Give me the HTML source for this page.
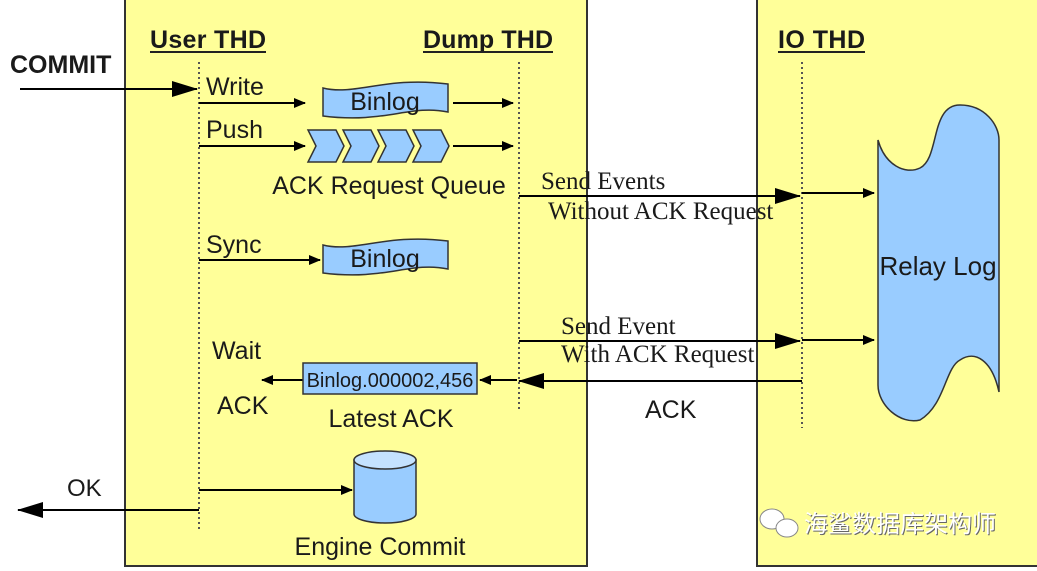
<!DOCTYPE html>
<html><head><meta charset="utf-8"><style>
html,body{margin:0;padding:0;background:#fff;}
svg{display:block;}
.s{font-family:"Liberation Sans",sans-serif;fill:#1a1a1a;}
.r{font-family:"Liberation Serif",serif;fill:#1a1a1a;}
</style></head><body>
<svg width="1037" height="571" viewBox="0 0 1037 571" xmlns="http://www.w3.org/2000/svg">
<defs>
<marker id="a" markerWidth="12" markerHeight="10" refX="11" refY="5" orient="auto" markerUnits="userSpaceOnUse">
<path d="M0,0 L12,5 L0,10 Z" fill="#000"/></marker>
<marker id="b" markerWidth="26" markerHeight="16" refX="25" refY="8" orient="auto" markerUnits="userSpaceOnUse">
<path d="M0,0 L26,8 L0,16 Z" fill="#000"/></marker>
</defs>
<rect x="125" y="-5" width="462" height="571" fill="#ffff99" stroke="#333" stroke-width="2"/>
<rect x="757" y="-5" width="290" height="571" fill="#ffff99" stroke="#333" stroke-width="2"/>

<g stroke="#555" stroke-width="2" stroke-dasharray="2,3">
<line x1="199" y1="62" x2="199" y2="532"/>
<line x1="519" y1="62" x2="519" y2="412"/>
<line x1="802" y1="62" x2="802" y2="428"/>
</g>

<text x="150" y="48" class="s" font-size="25" font-weight="bold" textLength="116">User THD</text>
<line x1="150" y1="52" x2="266" y2="52" stroke="#222" stroke-width="2"/>
<text x="423" y="48" class="s" font-size="25" font-weight="bold" textLength="130">Dump THD</text>
<line x1="423" y1="52" x2="553" y2="52" stroke="#222" stroke-width="2"/>
<text x="778" y="48" class="s" font-size="25" font-weight="bold" textLength="87">IO THD</text>
<line x1="778" y1="52" x2="865" y2="52" stroke="#222" stroke-width="2"/>
<text x="10" y="73" class="s" font-size="25" font-weight="bold">COMMIT</text>

<g stroke="#000" stroke-width="2" fill="none">
<line x1="20" y1="89" x2="197" y2="89" marker-end="url(#b)"/>
<line x1="199" y1="103" x2="305" y2="103" marker-end="url(#a)"/>
<line x1="453" y1="103" x2="513" y2="103" marker-end="url(#a)"/>
<line x1="199" y1="146" x2="305" y2="146" marker-end="url(#a)"/>
<line x1="453" y1="146" x2="513" y2="146" marker-end="url(#a)"/>
<line x1="199" y1="260" x2="320" y2="260" marker-end="url(#a)"/>
<line x1="519" y1="196" x2="800" y2="196" marker-end="url(#b)"/>
<line x1="802" y1="193" x2="874" y2="193" marker-end="url(#a)"/>
<line x1="519" y1="341" x2="800" y2="341" marker-end="url(#b)"/>
<line x1="802" y1="340" x2="874" y2="340" marker-end="url(#a)"/>
<line x1="802" y1="381" x2="519" y2="381" marker-end="url(#b)"/>
<line x1="517" y1="380" x2="480" y2="380" marker-end="url(#a)"/>
<line x1="303" y1="380" x2="262" y2="380" marker-end="url(#a)"/>
<line x1="199" y1="490" x2="352" y2="490" marker-end="url(#a)"/>
<line x1="199" y1="510" x2="18" y2="510" marker-end="url(#b)"/>
</g>

<text x="206" y="95" class="s" font-size="25">Write</text>
<text x="206" y="138" class="s" font-size="25">Push</text>
<text x="206" y="253" class="s" font-size="25">Sync</text>

<g fill="#99ccff" stroke="#333" stroke-width="1.5">
<path d="M323,88 C355,96 385,76 448,84 L448,112 C410,104 385,124 323,116 Z"/>
<path d="M323,245 C355,253 385,233 448,241 L448,269 C410,261 385,281 323,273 Z"/>
<path d="M308,130 L336,130 L344,146 L336,162 L308,162 L316,146 Z"/>
<path d="M343,130 L371,130 L379,146 L371,162 L343,162 L351,146 Z"/>
<path d="M378,130 L406,130 L414,146 L406,162 L378,162 L386,146 Z"/>
<path d="M413,130 L441,130 L449,146 L441,162 L413,162 L421,146 Z"/>
<rect x="303" y="363" width="174" height="31"/>
<path d="M354,460 L354,514 A31,9 0 0 0 416,514 L416,460 Z"/>
<ellipse cx="385" cy="460" rx="31" ry="9" fill="#c4e2ff"/>
<path d="M878,140 C885,165 905,175 920,168 C940,158 930,105 960,105 C985,105 999,125 999,140 L999,392 C992,360 975,350 960,360 C945,368 945,405 920,420 C900,425 878,405 878,385 Z"/>
</g>
<text x="385" y="110" class="s" font-size="25" text-anchor="middle">Binlog</text>
<text x="385" y="267" class="s" font-size="25" text-anchor="middle">Binlog</text>
<text x="389" y="194" class="s" font-size="25" text-anchor="middle">ACK Request Queue</text>
<text x="390" y="387" class="s" font-size="20" text-anchor="middle">Binlog.000002,456</text>
<text x="391" y="427" class="s" font-size="25" text-anchor="middle">Latest ACK</text>
<text x="212" y="359" class="s" font-size="25">Wait</text>
<text x="217" y="414" class="s" font-size="25">ACK</text>
<text x="380" y="555" class="s" font-size="25" text-anchor="middle">Engine Commit</text>
<text x="67" y="496" class="s" font-size="24">OK</text>
<text x="938" y="275" class="s" font-size="26" text-anchor="middle">Relay Log</text>
<text x="645" y="418" class="s" font-size="25">ACK</text>

<text x="541" y="189" class="r" font-size="25">Send Events</text>
<text x="548" y="219" class="r" font-size="25">Without ACK Request</text>
<text x="561" y="334" class="r" font-size="25">Send Event</text>
<text x="561" y="362" class="r" font-size="25">With ACK Request</text>

<g fill="#fff" stroke="#888" stroke-width="1">
<ellipse cx="772" cy="519" rx="12" ry="10"/>
<ellipse cx="787" cy="528" rx="11" ry="9"/>
</g>
<text x="805" y="533" font-family="'Noto Sans CJK SC',sans-serif" font-size="24" fill="#666">海鲨数据库架构师</text>
<text x="804" y="532" font-family="'Noto Sans CJK SC',sans-serif" font-size="24" fill="#fff">海鲨数据库架构师</text>
</svg>
</body></html>
